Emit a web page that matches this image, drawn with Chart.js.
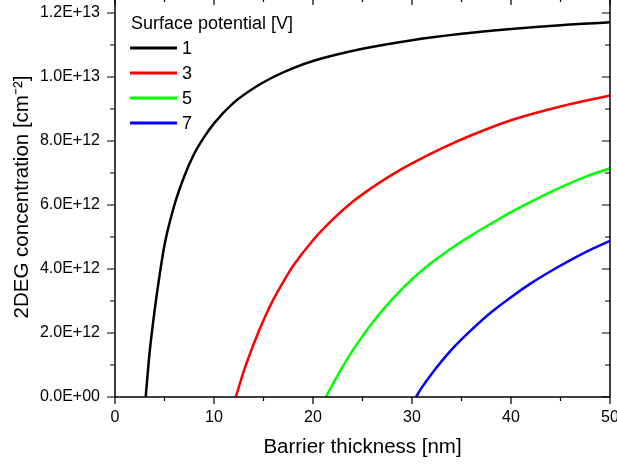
<!DOCTYPE html>
<html>
<head>
<meta charset="utf-8">
<script src="https://cdn.jsdelivr.net/npm/chart.js@4"></script>
<style>
  html, body { margin: 0; padding: 0; background: #fff; overflow: hidden; }
  #wrap { position: absolute; left: 0; top: -10px; width: 617px; height: 476px; }
</style>
</head>
<body>
<div id="wrap"><canvas id="myCanvas" width="617" height="476"></canvas></div>
<script>
// barrier thickness [nm] and 2DEG concentration [cm^-2]
const seriesNames = ['1', '3', '5', '7'];
const seriesColors = ['#000000', '#ff0000', '#00ff00', '#0000ff'];

const thick1 = [3.1, 3.5, 4, 4.5, 5, 6, 7, 8, 9, 10, 12, 14, 16, 18, 20, 25, 30, 35, 40, 45, 50];
const conc1 = [0, 1.4e12, 2.7e12, 3.8e12, 4.75e12, 6.0e12, 6.9e12, 7.6e12, 8.12e12, 8.55e12, 9.2e12, 9.65e12, 10.0e12, 10.28e12, 10.5e12, 10.88e12, 11.15e12, 11.35e12, 11.5e12, 11.62e12, 11.71e12];

const thick3 = [12.2, 13, 14, 15, 16, 17, 18, 20, 22, 24, 26, 28, 30, 33, 36, 40, 45, 50];
const conc3 = [0, 0.8e12, 1.65e12, 2.4e12, 3.05e12, 3.6e12, 4.1e12, 4.9e12, 5.55e12, 6.1e12, 6.55e12, 6.95e12, 7.3e12, 7.77e12, 8.18e12, 8.65e12, 9.08e12, 9.42e12];

const thick5 = [21.3, 22, 23, 24, 25, 26, 27, 28, 30, 32, 34, 36, 38, 40, 42, 45, 47.5, 50];
const conc5 = [0, 0.4e12, 0.95e12, 1.45e12, 1.9e12, 2.32e12, 2.7e12, 3.05e12, 3.68e12, 4.2e12, 4.65e12, 5.05e12, 5.42e12, 5.78e12, 6.1e12, 6.55e12, 6.88e12, 7.15e12];

const thick7 = [30.4, 31, 32, 33, 34, 35, 36, 38, 40, 42, 44, 46, 48, 50];
const conc7 = [0, 0.3e12, 0.73e12, 1.12e12, 1.48e12, 1.8e12, 2.1e12, 2.65e12, 3.12e12, 3.55e12, 3.93e12, 4.28e12, 4.6e12, 4.88e12];

const xTicks = [0, 10, 20, 30, 40, 50];
const yTicks = [0, 2e12, 4e12, 6e12, 8e12, 10e12, 12e12];

const FONT = 'Arial, "Liberation Sans", sans-serif';

const toPoints = (xs, ys) => xs.map((x, i) => ({x: x, y: ys[i]}));
const allThick = [thick1, thick3, thick5, thick7];
const allConc = [conc1, conc3, conc5, conc7];

const fmtExp = v => {
    if (v === 0) return '0.0E+00';
    return v.toExponential(1).replace('e', 'E');
};

// frame, minor/major ticks and legend
const framePlugin = {
    id: 'frame',
    afterDraw(chart) {
        const ctx = chart.ctx;
        const a = chart.chartArea;
        const xs = chart.scales.x;
        const ys = chart.scales.y;
        ctx.save();
        ctx.strokeStyle = '#000';
        ctx.lineWidth = 1.5;
        ctx.strokeRect(a.left, a.top, a.right - a.left, a.bottom - a.top);
        ctx.lineWidth = 1.2;
        ctx.beginPath();
        for (let v = 0; v <= 50; v += 5) {
            const px = xs.getPixelForValue(v);
            const len = v % 10 === 0 ? 7 : 4;
            ctx.moveTo(px, a.bottom); ctx.lineTo(px, a.bottom + len);
            ctx.moveTo(px, a.top); ctx.lineTo(px, a.top + len + 1);
        }
        for (let v = 0; v <= 12e12; v += 1e12) {
            const py = ys.getPixelForValue(v);
            const major = Math.round(v / 1e12) % 2 === 0;
            const len = major ? 8 : 5;
            ctx.moveTo(a.left, py); ctx.lineTo(a.left - len, py);
            ctx.moveTo(a.right, py); ctx.lineTo(a.right - len, py);
        }
        ctx.stroke();

        // legend
        ctx.fillStyle = '#000';
        ctx.font = '18px ' + FONT;
        ctx.textBaseline = 'middle';
        ctx.textAlign = 'left';
        ctx.fillText('Surface potential [V]', 131, 34);
        chart.data.datasets.forEach((ds, i) => {
            const y = 58 + i * 25;
            ctx.strokeStyle = ds.borderColor;
            ctx.lineWidth = 3;
            ctx.beginPath();
            ctx.moveTo(130, y); ctx.lineTo(177, y);
            ctx.stroke();
            ctx.fillText(ds.label, 182, y + 1);
        });
        ctx.restore();
    }
};

const dataConfig = {
    datasets: seriesNames.map((name, i) => ({
        label: name,
        data: toPoints(allThick[i], allConc[i]),
        borderColor: seriesColors[i],
        backgroundColor: seriesColors[i],
        borderWidth: 2.5,
        pointRadius: 0,
        showLine: true,
        cubicInterpolationMode: 'monotone',
        clip: false
    }))
};

const config = {
    type: 'scatter',
    data: dataConfig,
    options: {
        responsive: false,
        animation: false,
        devicePixelRatio: 1,
        layout: { padding: { top: 7, right: 7, bottom: 0, left: 0 } },
        plugins: { legend: { display: false }, tooltip: { enabled: false } },
        scales: {
            x: {
                type: 'linear',
                min: 0, max: 50,
                afterBuildTicks: s => { s.ticks = xTicks.map(v => ({value: v})); },
                afterFit: s => { s.height = 69; s.paddingLeft = 0; s.paddingRight = 0; },
                grid: { display: false, drawTicks: false },
                border: { display: false },
                ticks: { color: '#000', font: { family: FONT, size: 16 }, padding: 11, maxRotation: 0 },
                title: { display: true, text: 'Barrier thickness [nm]', color: '#000',
                         font: { family: FONT, size: 20.5 }, padding: { top: 0, bottom: 6 } }
            },
            y: {
                type: 'linear',
                min: 0, max: 1.25e13,
                afterBuildTicks: s => { s.ticks = yTicks.map(v => ({value: v})); },
                afterFit: s => { s.width = 115; s.paddingTop = 0; s.paddingBottom = 0; },
                grid: { display: false, drawTicks: false },
                border: { display: false },
                ticks: { color: '#000', font: { family: FONT, size: 16 }, padding: 15, callback: fmtExp },
                title: { display: true, text: '2DEG concentration [cm\u207B\u00B2]', color: '#000',
                         font: { family: FONT, size: 20.5 }, padding: { top: 10, bottom: 0 } }
            }
        }
    },
    plugins: [framePlugin]
};

const myChart = new Chart(document.getElementById('myCanvas'), config);
</script>
</body>
</html>
